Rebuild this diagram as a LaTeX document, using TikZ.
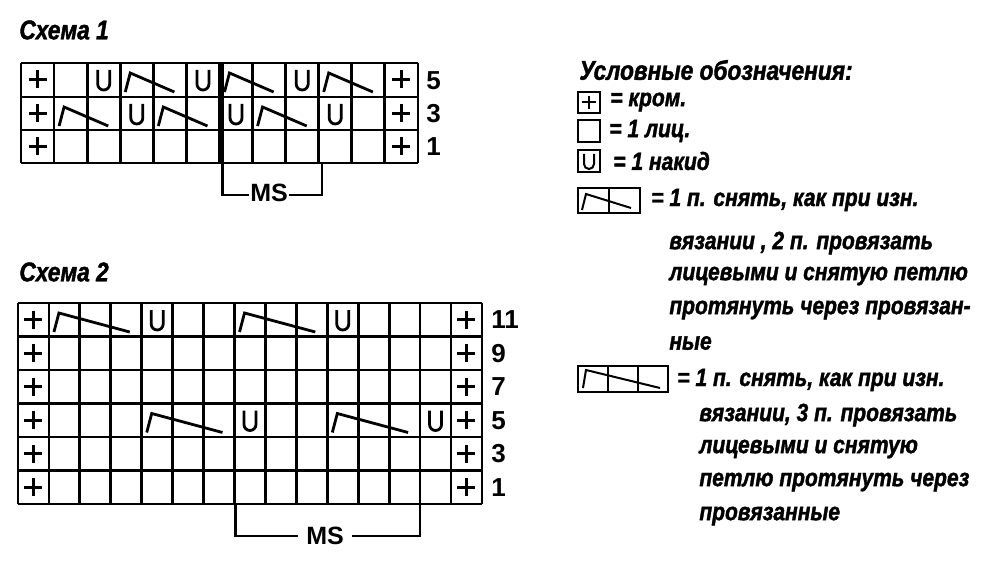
\documentclass[tikz,border=0pt]{standalone}
\usepackage{fontspec}
\setmainfont{Liberation Sans}
\newfontfamily\lf{Liberation Sans}[ItalicFont={Liberation Sans Bold Italic},ItalicFeatures={FakeStretch=0.84,FakeBold=1.5}]
\begin{document}
\begin{tikzpicture}[x=1pt,y=-1pt,line width=2.8pt,
  lbl/.style={font=\lf\itshape\fontsize{25}{25}\selectfont,anchor=west,inner sep=0pt},
  num/.style={font=\bfseries\fontsize{26}{26}\selectfont,anchor=west,inner sep=0pt},
  ttl/.style={font=\lf\itshape\fontsize{27}{27}\selectfont,anchor=west,inner sep=0pt}]
\useasboundingbox[fill=white] (0,0) rectangle (1008,577);
\def\plus#1#2#3#4{%
  \draw ({#1+#3/2-9},{#2+#4/2}) -- ({#1+#3/2+9},{#2+#4/2});
  \draw ({#1+#3/2},{#2+#4/2-9}) -- ({#1+#3/2},{#2+#4/2+9});}
\def\yo#1#2#3{%
  \draw ({#1+#3/2-6},{#2+7}) -- ({#1+#3/2-6},{#2+21}) arc[start angle=180,end angle=0,x radius=6pt,y radius=-6pt] -- ({#1+#3/2+6},{#2+7});}
\def\dec#1#2#3{%
  \draw[line join=miter] ({#1+5},{#2+29}) -- ({#1+10},{#2+10}) -- ({#1+#3-12},{#2+29});}
% ---------- Schema 1
\node[ttl] (t1) at (18,30) {Схема 1};
\def\cw{33.08}
\foreach \i in {0,...,12} \draw ({21+\i*\cw},63) -- ({21+\i*\cw},163);
\foreach \y in {63,97,130,163} \draw (21,\y) -- (418,\y);
\draw[line width=3.8pt] (222.5,63) -- (222.5,163);
\foreach \y in {63,97,130}{
  \plus{21}{\y}{\cw}{33}
  \plus{21+11*\cw}{\y}{\cw}{33}}
\foreach \c in {2,5,8} {\yo{21+\c*\cw}{63}{\cw}}
\foreach \c in {3,6,9} {\dec{21+\c*\cw}{63}{2*\cw}}
\foreach \c in {3,6,9} {\yo{21+\c*\cw}{97}{\cw}}
\foreach \c in {1,4,7} {\dec{21+\c*\cw}{97}{2*\cw}}
\node[num] (r15) at (425,81) {5};
\node[num] (r13) at (425,114) {3};
\node[num] (r11) at (425,147) {1};
\node[font=\bfseries\fontsize{25}{25}\selectfont,inner sep=0pt] (ms1) at (269,193) {MS};
\draw (222.5,163) -- (222.5,195) -- (ms1.west |- 0,195);
\draw (ms1.east |- 0,195) -- (322,195) -- (322,163);
% ---------- Schema 2
\node[ttl] (t2) at (18,272) {Схема 2};
\def\cv{30.93}
\foreach \i in {0,...,15} \draw ({18+\i*\cv},303) -- ({18+\i*\cv},504);
\foreach \y in {303,336.5,370,403.5,437,470.5,504} \draw (18,\y) -- (482,\y);
\foreach \y in {303,336.5,370,403.5,437,470.5}{
  \plus{18}{\y}{\cv}{33.5}
  \plus{18+14*\cv}{\y}{\cv}{33.5}}
\dec{18+1*\cv}{303}{3*\cv}
\dec{18+7*\cv}{303}{3*\cv}
\yo{18+4*\cv}{303}{\cv}
\yo{18+10*\cv}{303}{\cv}
\dec{18+4*\cv}{403.5}{3*\cv}
\dec{18+10*\cv}{403.5}{3*\cv}
\yo{18+7*\cv}{403.5}{\cv}
\yo{18+13*\cv}{403.5}{\cv}
\foreach \t/\y in {11/320,9/354,7/387,5/421,3/454,1/488}
  \node[num] (s2r\t) at (490,\y) {\t};
\node[font=\bfseries\fontsize{25}{25}\selectfont,inner sep=0pt] (ms2) at (325,536) {MS};
\draw (235.5,504) -- (235.5,536) -- ([xshift=-7pt]ms2.west |- 0,536);
\draw ([xshift=7pt]ms2.east |- 0,536) -- (420,536) -- (420,504);
% ---------- Legend
\node[ttl] (lt) at (578,70) {Условные обозначения:};
\draw[line width=2pt] (578,92) rectangle (600,113);
\draw[line width=2pt] (582,102.5) -- (596,102.5) (589,96) -- (589,109);
\node[lbl] (l1) at (609,102) {= кром.};
\draw[line width=2pt] (578,120) rectangle (600,142);
\node[lbl] (l2) at (608,131) {= 1 лиц.};
\draw[line width=2pt] (578,150) rectangle (600,172);
\draw[line width=2pt] (584,154) -- (584,164) arc[start angle=180,end angle=0,x radius=5pt,y radius=-5pt] -- (594,154);
\node[lbl] (l3) at (612,161) {= 1 накид};
\draw[line width=2pt] (578,188) rectangle (640,213) (609,188) -- (609,213);
\draw[line width=2pt] (582,210) -- (586,194) -- (631,208);
\node[lbl] (l4) at (650,200) {= 1 п. снять, как при изн.};
\node[lbl] (l4b) at (668,243) {вязании , 2 п. провязать};
\node[lbl] (l4c) at (668,276) {лицевыми и снятую петлю};
\node[lbl] (l4d) at (668,310) {протянуть через провязан-};
\node[lbl] (l4e) at (668,343) {ные};
\draw[line width=2pt] (578,366) rectangle (668,392) (608,366) -- (608,392) (638,366) -- (638,392);
\draw[line width=2pt] (583,388) -- (586,370) -- (660,388);
\node[lbl] (l5) at (676,380) {= 1 п. снять, как при изн.};
\node[lbl] (l5b) at (698,415) {вязании, 3 п. провязать};
\node[lbl] (l5c) at (698,449) {лицевыми и снятую};
\node[lbl] (l5d) at (698,482) {петлю протянуть через};
\node[lbl] (l5e) at (698,516) {провязанные};
\end{tikzpicture}
\end{document}
